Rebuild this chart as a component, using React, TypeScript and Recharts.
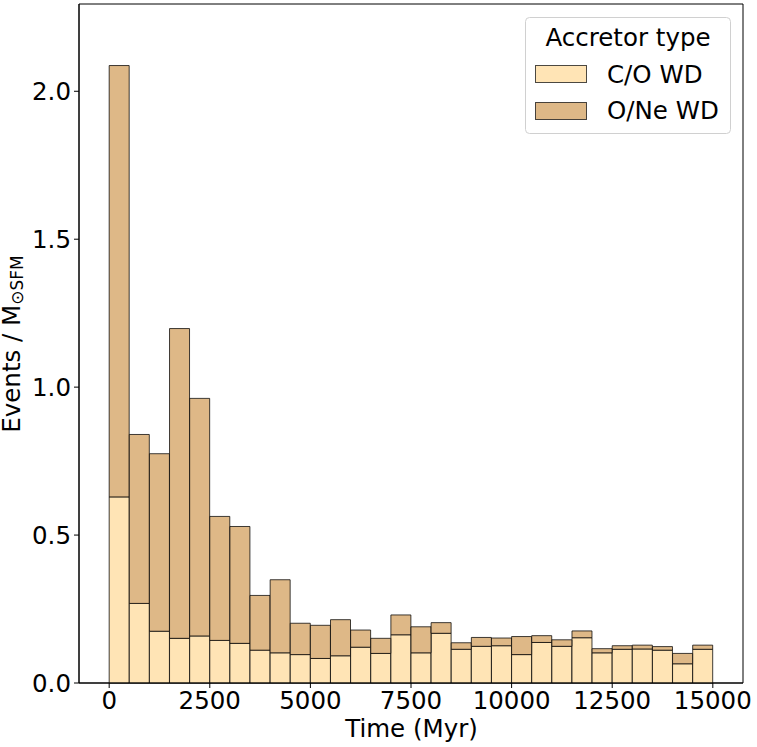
import React from "react";
import {
  ComposedChart,
  Bar,
  XAxis,
  YAxis,
  Legend,
  ReferenceArea,
} from "recharts";

const binCenters = [
  250, 750, 1250, 1750, 2250, 2750, 3250, 3750, 4250, 4750,
  5250, 5750, 6250, 6750, 7250, 7750, 8250, 8750, 9250, 9750,
  10250, 10750, 11250, 11750, 12250, 12750, 13250, 13750, 14250, 14750,
];

const coWD = [
  0.629, 0.269, 0.175, 0.151, 0.159, 0.144, 0.134, 0.111, 0.102, 0.096,
  0.083, 0.092, 0.121, 0.1, 0.163, 0.102, 0.168, 0.114, 0.124, 0.126,
  0.096, 0.137, 0.124, 0.153, 0.102, 0.114, 0.115, 0.111, 0.065, 0.114,
];

const oneWD = [
  1.458, 0.571, 0.6, 1.047, 0.803, 0.419, 0.395, 0.185, 0.247, 0.106,
  0.112, 0.122, 0.058, 0.051, 0.067, 0.088, 0.036, 0.022, 0.03, 0.026,
  0.061, 0.023, 0.022, 0.023, 0.014, 0.012, 0.013, 0.012, 0.035, 0.014,
];

const xTicks = [0, 2500, 5000, 7500, 10000, 12500, 15000];
const yTicks = [0, 0.5, 1, 1.5, 2];

const CO_COLOR = "#FFE4B5";
const ONE_COLOR = "#DEB887";
const FONT = "DejaVu Sans";
const FS = 24.5;

const data = binCenters.map((x, i) => ({ x, co: coWD[i], one: oneWD[i] }));

const LegendBox = () => (
  <svg width={206} height={117} style={{ display: "block", fontFamily: FONT }}>
    <rect x={0.5} y={0.5} width={205} height={116} rx={4} ry={4} fill="#fff" fillOpacity={0.8} stroke="#d0d0d0" />
    <text x={103} y={29} textAnchor="middle" fontSize={FS} fill="#000">Accretor type</text>
    <rect x={10.5} y={48.5} width={51} height={17} fill={CO_COLOR} stroke="#000" strokeOpacity={0.7} />
    <text x={82} y={65.5} fontSize={FS} fill="#000">C/O WD</text>
    <rect x={10.5} y={85.5} width={51} height={17} fill={ONE_COLOR} stroke="#000" strokeOpacity={0.7} />
    <text x={82} y={102} fontSize={FS} fill="#000">O/Ne WD</text>
  </svg>
);

export default function App() {
  return (
    <div style={{ position: "absolute", left: 0, top: 0, width: 757, height: 747, background: "#fff", fontFamily: FONT }}>
      <ComposedChart
        width={757}
        height={747}
        data={data}
        margin={{ top: 4, right: 14, left: 0, bottom: 0 }}
        barCategoryGap={0}
        barGap={0}
      >
        <XAxis
          dataKey="x"
          type="number"
          domain={[-750, 15750]}
          ticks={xTicks}
          height={64}
          tickSize={5}
          tickMargin={4}
          tick={{ fill: "#000", fontSize: FS, fontFamily: FONT }}
          axisLine={{ stroke: "#000" }}
          tickLine={{ stroke: "#000" }}
          interval={0}
          label={{
            content: () => (
              <text x={411.5} y={737} textAnchor="middle" fontSize={FS} fontFamily={FONT} fill="#000">
                Time (Myr)
              </text>
            ),
          }}
        />
        <YAxis
          type="number"
          domain={[0, 2.295]}
          ticks={yTicks}
          width={79}
          tickSize={5}
          tickMargin={3}
          tickFormatter={(v: number) => v.toFixed(1)}
          tick={{ fill: "#000", fontSize: FS, fontFamily: FONT }}
          axisLine={{ stroke: "#000" }}
          tickLine={{ stroke: "#000" }}
          interval={0}
          label={{
            content: () => (
              <text
                x={20}
                y={344}
                transform="rotate(-90, 20, 344)"
                textAnchor="middle"
                fontSize={FS}
                fontFamily={FONT}
                fill="#000"
              >
                Events / M
                <tspan fontSize={17} dy={3}>⊙SFM</tspan>
              </text>
            ),
          }}
        />
        <Bar dataKey="co" stackId="a" fill={CO_COLOR} stroke="#000" strokeOpacity={0.75} strokeWidth={1} isAnimationActive={false} />
        <Bar dataKey="one" stackId="a" fill={ONE_COLOR} stroke="#000" strokeOpacity={0.75} strokeWidth={1} isAnimationActive={false} />
        <ReferenceArea x1={-750} x2={15750} y1={0} y2={2.295} fill="none" stroke="#000" strokeWidth={1} ifOverflow="visible" />
        <Legend
          layout="horizontal"
          verticalAlign="middle"
          align="center"
          content={() => <LegendBox />}
          wrapperStyle={{ position: "absolute", left: 525, top: 17, width: 206, height: 117 }}
        />
      </ComposedChart>
    </div>
  );
}
